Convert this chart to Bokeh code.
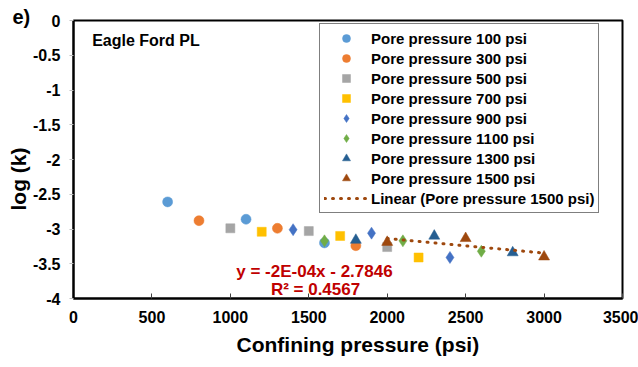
import numpy as np
from bokeh.plotting import figure
from bokeh.models import Label, Legend, LegendItem, FixedTicker, Range1d, Title
from bokeh.embed import file_html
from bokeh.resources import INLINE

# ---------------- data ----------------
x_ticks = [0, 500, 1000, 1500, 2000, 2500, 3000, 3500]
y_ticks = [-4, -3.5, -3, -2.5, -2, -1.5, -1, -0.5, 0]

series_names = ["Pore pressure 100 psi", "Pore pressure 300 psi", "Pore pressure 500 psi",
                "Pore pressure 700 psi", "Pore pressure 900 psi", "Pore pressure 1100 psi",
                "Pore pressure 1300 psi", "Pore pressure 1500 psi"]
trend_name = "Linear (Pore pressure 1500 psi)"

conf_100 = [600, 1100, 1600]
logk_100 = [-2.61, -2.86, -3.20]
conf_300 = [800, 1300, 1800]
logk_300 = [-2.88, -2.99, -3.24]
conf_500 = [1000, 1500, 2000]
logk_500 = [-2.99, -3.03, -3.26]
conf_700 = [1200, 1700, 2200]
logk_700 = [-3.04, -3.10, -3.41]
conf_900 = [1400, 1900, 2400]
logk_900 = [-3.01, -3.06, -3.41]
conf_1100 = [1600, 2100, 2600]
logk_1100 = [-3.17, -3.17, -3.32]
conf_1300 = [1800, 2300, 2800]
logk_1300 = [-3.16, -3.10, -3.34]
conf_1500 = [2000, 2500, 3000]
logk_1500 = [-3.19, -3.135, -3.40]

equation_text = "y = -2E-04x - 2.7846"
r2_text = "R\u00b2 = 0.4567"
panel_text = "Eagle Ford PL"
panel_letter = "e)"
x_title = "Confining pressure (psi)"
y_title = "log (k)"

# ---------------- styles ----------------
FONT = "Liberation Sans"
# (marker, colour, size)
styles = [
    ("circle", "#5B9BD5", 10),
    ("circle", "#ED7D31", 10),
    ("square", "#A5A5A5", 9),
    ("square", "#FFC000", 9),
    ("diamond", "#4472C4", 12),
    ("diamond", "#70AD47", 12),
    ("triangle", "#255E91", 11),
    ("triangle", "#9E480E", 11),
]
xs_all = [conf_100, conf_300, conf_500, conf_700, conf_900, conf_1100, conf_1300, conf_1500]
ys_all = [logk_100, logk_300, logk_500, logk_700, logk_900, logk_1100, logk_1300, logk_1500]

p = figure(width=638, height=367, x_range=Range1d(0, 3500), y_range=Range1d(-4, 0),
           output_backend="svg", toolbar_location=None,
           min_border=0, min_border_left=73, min_border_right=16,
           min_border_top=20, min_border_bottom=69)
p.xgrid.visible = False
p.ygrid.visible = False
p.outline_line_color = "black"
p.outline_line_width = 2
p.background_fill_color = "white"
p.border_fill_color = "white"

# panel letter as the plot title, pushed left of the frame
p.title.text = panel_letter
p.title.align = "left"
p.title.offset = -61
p.title.standoff = -15
p.title.text_font = FONT
p.title.text_font_style = "bold"
p.title.text_font_size = "20px"
p.title.text_color = "black"

for ax, ticks in ((p.xaxis[0], x_ticks), (p.yaxis[0], y_ticks)):
    ax.ticker = FixedTicker(ticks=ticks)
    ax.major_label_overrides = {t: f"{t:g}" for t in ticks}
    ax.axis_line_color = "black"
    ax.axis_line_width = 2
    ax.minor_tick_in = 0
    ax.minor_tick_out = 0
    ax.major_label_text_font = FONT
    ax.major_label_text_font_style = "bold"
    ax.major_label_text_font_size = "16px"
    ax.major_label_text_color = "black"

p.xaxis.major_tick_in = 5
p.xaxis.major_tick_out = 0
p.xaxis.major_tick_line_color = "#404040"
p.xaxis.major_label_standoff = 12
p.yaxis.major_tick_in = 0
p.yaxis.major_tick_out = 4
p.yaxis.major_tick_line_color = "#BFBFBF"
p.yaxis.major_label_standoff = 9

items = []
for name, (marker, color, size), xs, ys in zip(series_names, styles, xs_all, ys_all):
    r = p.scatter(xs, ys, marker=marker, size=size, fill_color=color,
                  line_color=color, line_width=0.5)
    items.append(LegendItem(label=name, renderers=[r]))

# linear trendline for the 1500 psi series
slope, intercept = np.polyfit(conf_1500, logk_1500, 1)
tx = [min(conf_1500), max(conf_1500)]
ty = [slope * v + intercept for v in tx]
tr = p.line(tx, ty, line_color="#9E480E", line_width=3, line_dash="1 7", line_cap="round")
items.append(LegendItem(label=trend_name, renderers=[tr]))

legend = Legend(items=items, location=(246, 85),
                label_text_font=FONT, label_text_font_style="bold", label_text_font_size="15px",
                label_text_color="black", label_height=20, glyph_height=20, glyph_width=44,
                label_standoff=3, spacing=0, padding=4, margin=0,
                border_line_color="black", border_line_width=1.5,
                background_fill_color="white", background_fill_alpha=1)
p.add_layout(legend)

red = "#C00000"
p.add_layout(Label(x=1536, y=-3.607, text=equation_text, text_align="center", text_baseline="middle",
                   text_font=FONT, text_font_style="bold", text_font_size="17px", text_color=red))
p.add_layout(Label(x=1543, y=-3.870, text=r2_text, text_align="center", text_baseline="middle",
                   text_font=FONT, text_font_style="bold", text_font_size="17px", text_color=red))
p.add_layout(Label(x=119, y=-0.281, text=panel_text, text_align="left", text_baseline="middle",
                   text_font=FONT, text_font_style="bold", text_font_size="16px", text_color="black"))

xt = Title(text=x_title, align="left", offset=163, standoff=11,
           text_font=FONT, text_font_style="bold", text_font_size="21px", text_color="black")
p.add_layout(xt, "below")
yt = Title(text=y_title, align="left", offset=88, standoff=0,
           text_font=FONT, text_font_style="bold", text_font_size="21px", text_color="black")
p.add_layout(yt, "left")

open("out.html", "w").write(file_html(p, INLINE))
